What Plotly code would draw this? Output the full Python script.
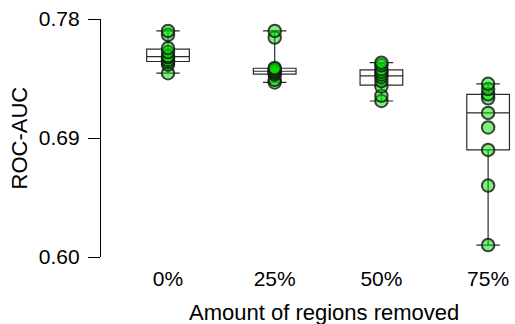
import numpy as np
import plotly.graph_objects as go

categories = ["0%", "25%", "50%", "75%"]
auc_0 = [0.739, 0.7455, 0.7475, 0.749, 0.751, 0.752, 0.755, 0.758, 0.768, 0.771]
auc_25 = [0.732, 0.734, 0.738, 0.739, 0.740, 0.741, 0.742, 0.743, 0.766, 0.771]
auc_50 = [0.718, 0.722, 0.729, 0.733, 0.736, 0.738, 0.740, 0.742, 0.745, 0.747]
auc_75 = [0.609, 0.654, 0.681, 0.698, 0.709, 0.720, 0.723, 0.727, 0.731]
series = [auc_0, auc_25, auc_50, auc_75]
y_ticks = [0.60, 0.69, 0.78]
y_ticktext = ["0.60", "0.69", "0.78"]

FONT = "Liberation Sans, Arial, sans-serif"

q1 = [float(np.percentile(s, 25)) for s in series]
med = [float(np.percentile(s, 50)) for s in series]
q3 = [float(np.percentile(s, 75)) for s in series]
lo = [float(np.min(s)) for s in series]
hi = [float(np.max(s)) for s in series]

fig = go.Figure()
fig.add_trace(go.Box(
    x=categories, q1=q1, median=med, q3=q3, lowerfence=lo, upperfence=hi,
    width=0.4, whiskerwidth=0.55,
    fillcolor="rgba(0,0,0,0)",
    line=dict(color="rgba(20,20,20,0.9)", width=1.2),
    boxpoints=False, showlegend=False, hoverinfo="skip",
))

xs, ys = [], []
for c, s in zip(categories, series):
    xs += [c] * len(s)
    ys += list(s)

fig.add_trace(go.Scatter(
    x=xs, y=ys, mode="markers", showlegend=False,
    marker=dict(size=12.5, color="rgba(0,225,0,0.5)",
                line=dict(color="rgba(20,20,20,0.8)", width=2)),
))

fig.update_layout(
    width=515, height=324,
    margin=dict(l=101, r=0, t=19, b=67),
    paper_bgcolor="white", plot_bgcolor="white",
    font=dict(family=FONT, size=20, color="black"),
    xaxis=dict(
        type="category", range=[-0.628, 3.252],
        showline=False, showgrid=False, zeroline=False,
        ticks="", tickfont=dict(size=21), ticklabelstandoff=7,
    ),
    yaxis=dict(
        range=[0.60, 0.78], tickvals=y_ticks, ticktext=y_ticktext,
        showline=True, linecolor="black", linewidth=1.3,
        ticks="outside", ticklen=12, tickwidth=1.3, tickcolor="black",
        showgrid=False, zeroline=False, tickfont=dict(size=21),
        ticklabelstandoff=4,
    ),
    annotations=[
        dict(text="Amount of regions removed", xref="paper", yref="paper",
             x=0.5387, y=-0.235, xanchor="center", yanchor="middle",
             showarrow=False, font=dict(size=22)),
        dict(text="ROC-AUC", xref="paper", yref="paper",
             x=-0.197, y=0.5, xanchor="center", yanchor="middle",
             textangle=-90, showarrow=False, font=dict(size=22)),
    ],
)

fig.write_html("out.html", config={"displayModeBar": False},
               post_script="document.body.style.margin='0';document.body.style.overflow='hidden';")
